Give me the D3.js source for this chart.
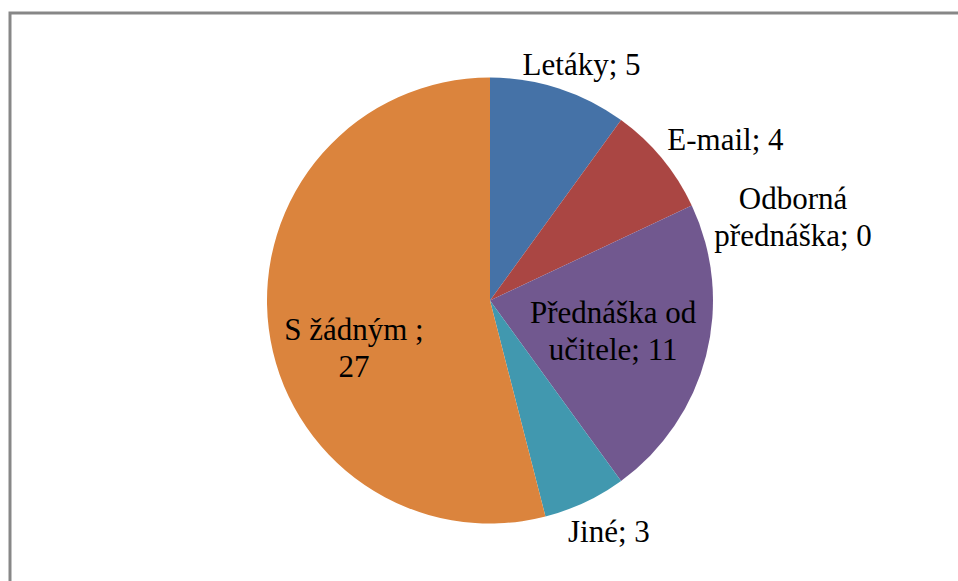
<!DOCTYPE html>
<html>
<head>
<meta charset="utf-8">
<script src="https://cdn.jsdelivr.net/npm/d3@7/dist/d3.min.js"></script>
<style>
  html, body { margin: 0; padding: 0; background: #ffffff; }
  svg { display: block; }
</style>
</head>
<body>
<svg id="chart" width="958" height="581"></svg>
<script>
// ---- data ----
const categories = ["Letáky", "E-mail", "Odborná přednáška", "Přednáška od učitele", "Jiné", "S žádným "];
const values = [5, 4, 0, 11, 3, 27];
const colors = ["#4572A7", "#AA4643", "#89A54E", "#71588F", "#4198AF", "#DB843D"];

// ---- layout config ----
const W = 958, H = 581;
const cx = 490, cy = 300.5, R = 223;
const fontSize = 31, lineHeight = 37;
const insideFactor = 0.57, outsideExtra = 28;
const labelInside = [false, false, false, true, false, true];
const labelNudge = [[14, 2], [42, -2], [76, 23], [0, -2], [12, 3], [-10, 31]];
const serif = '"Liberation Serif"';

const svg = d3.select("#chart");

// frame
svg.append("path")
  .attr("d", `M10,${H + 5} L10,13 L${W + 5},13`)
  .attr("fill", "none")
  .attr("stroke", "#878787")
  .attr("stroke-width", 3);

const g = svg.append("g").attr("transform", `translate(${cx},${cy})`);

const pie = d3.pie().sort(null).value(d => d.value);
const data = categories.map((c, i) => ({ name: c, value: values[i], color: colors[i], i }));
const arcs = pie(data);

const arc = d3.arc().innerRadius(0).outerRadius(R);

g.selectAll("path.slice")
  .data(arcs)
  .enter().append("path")
  .attr("class", "slice")
  .attr("d", arc)
  .attr("fill", d => d.data.color);

// labels
const measurer = svg.append("text")
  .style("font-family", serif)
  .style("font-size", fontSize + "px")
  .attr("visibility", "hidden");
function textWidth(s) { measurer.text(s); return measurer.node().getComputedTextLength(); }
function wrap(s, maxW) {
  const words = s.split(/\s+/).filter(w => w.length);
  const lines = [];
  let cur = "";
  words.forEach(w => {
    const test = cur ? cur + " " + w : w;
    if (cur && textWidth(test) > maxW) { lines.push(cur); cur = w; }
    else cur = test;
  });
  if (cur) lines.push(cur);
  return lines;
}

arcs.forEach((a, i) => {
  const mid = (a.startAngle + a.endAngle) / 2;
  const r = labelInside[i] ? R * insideFactor : R + outsideExtra;
  const x = Math.sin(mid) * r + labelNudge[i][0];
  const y = -Math.cos(mid) * r + labelNudge[i][1];
  const label = a.data.name + "; " + a.data.value;
  const lines = wrap(label, 176);
  const t = g.append("text")
    .style("font-family", serif)
    .style("font-size", fontSize + "px")
    .attr("fill", "#000000")
    .attr("text-anchor", "middle");
  const firstBase = y - (lines.length - 1) * lineHeight / 2 + 11;
  lines.forEach((ln, k) => {
    t.append("tspan")
      .attr("x", x)
      .attr("y", firstBase + k * lineHeight)
      .text(ln);
  });
});
measurer.remove();
</script>
</body>
</html>
